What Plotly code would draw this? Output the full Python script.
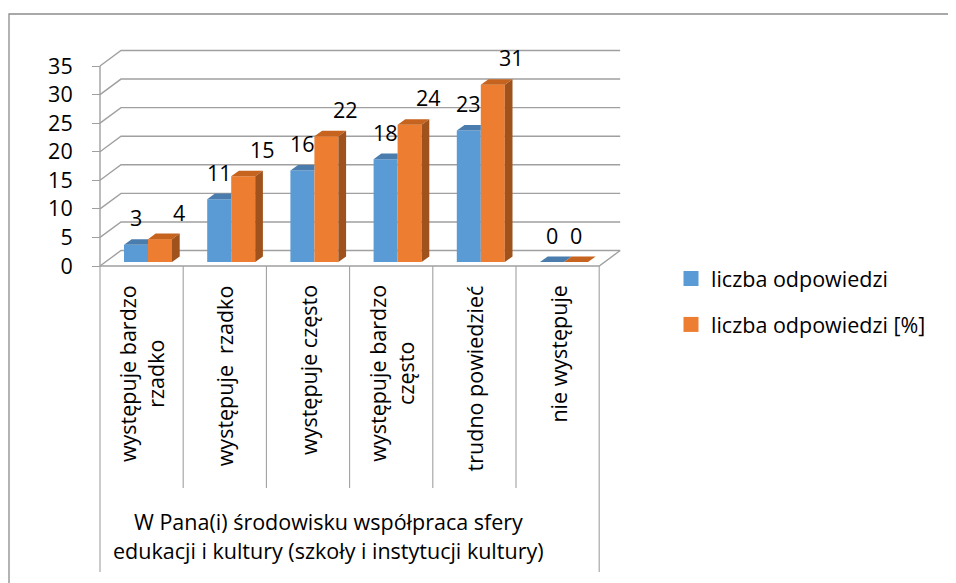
import plotly.graph_objects as go

# ---------------- data ----------------
categories = [
    "występuje bardzo<br>rzadko",
    "występuje\u00a0 rzadko",
    "występuje często",
    "występuje bardzo<br>często",
    "trudno powiedzieć",
    "nie występuje",
]
count_values = [3, 11, 16, 18, 23, 0]
percent_values = [4, 15, 22, 24, 31, 0]
series_names = ["liczba odpowiedzi", "liczba odpowiedzi [%]"]
y_ticks = [0, 5, 10, 15, 20, 25, 30, 35]
group_title_lines = [
    "W Pana(i) środowisku współpraca sfery",
    "edukacji i kultury (szkoły i instytucji kultury)",
]

# ---------------- style / geometry ----------------
W, H = 956, 583
PAGE = 8               # page body margin of the html page
FONT = "Open Sans"
FS = 21.5
BLUE, BLUE_TOP = "#5B9BD5", "#4A7DAE"
ORANGE, ORANGE_TOP, ORANGE_SIDE = "#ED7D31", "#C6631F", "#A0521C"
GRID = "#a0a0a0"

PX_X = 83.2            # pixels per category
PX_Y = 200.0 / 35.0    # pixels per value unit
X0_PX, Y0_PX = 100, 266  # screen pixel of the front-left-bottom corner
PL, PR, PT, PB = 60, 625, 40, 575   # plot area edges on screen
ML = PL - PAGE
MT = PT - PAGE
MR = W - (PR - PAGE)
MB = H - (PB - PAGE)

xmin = -0.5 - (X0_PX - PL) / PX_X
xmax = -0.5 + (PR - X0_PX) / PX_X
ymax = (Y0_PX - PT) / PX_Y
ymin = -(PB - Y0_PX) / PX_Y


def fx(px):
    return -0.5 + (px - X0_PX) / PX_X


def fy(py):
    return (Y0_PX - py) / PX_Y


def paper_x(px):
    return (px - PL) / (PR - PL)


def paper_y(py):
    return (PB - py) / (PB - PT)


WDX, WDY = 21 / PX_X, 15.5 / PX_Y      # wall depth
BAR_W = 24 / PX_X
BAR_OFF = 24 / PX_X                      # from category left edge
BASE = 4 / PX_Y
BDX, BDY = 7.7 / PX_X, 5.6 / PX_Y        # bar depth
n = len(categories)
x_last = n - 0.5

fig = go.Figure()

blue_x = [i - 0.5 + BAR_OFF + BAR_W / 2 for i in range(n)]
orange_x = [i - 0.5 + BAR_OFF + BAR_W * 1.5 for i in range(n)]

fig.add_trace(go.Bar(x=blue_x, y=count_values, base=BASE, width=BAR_W,
                     marker=dict(color=BLUE, line=dict(width=0)),
                     name=series_names[0], showlegend=False))
fig.add_trace(go.Bar(x=orange_x, y=percent_values, base=BASE, width=BAR_W,
                     marker=dict(color=ORANGE, line=dict(width=0)),
                     name=series_names[1], showlegend=False))

# legend entries
for name, col in zip(series_names, [BLUE, ORANGE]):
    fig.add_trace(go.Scatter(x=[None], y=[None], mode="markers", name=name,
                             legendgroup=name,
                             marker=dict(symbol="square", size=15, color=col,
                                         line=dict(width=0))))

shapes = []


def line_path(pts, color=GRID, width=1.4, layer="below", xref="x", yref="y"):
    d = "M " + " L ".join(f"{a},{b}" for a, b in pts)
    return dict(type="path", path=d, xref=xref, yref=yref, layer=layer,
                line=dict(color=color, width=width))


def poly(pts, color):
    d = "M " + " L ".join(f"{a},{b}" for a, b in pts) + " Z"
    return dict(type="path", path=d, xref="x", yref="y", layer="above",
                fillcolor=color, line=dict(width=0))


# back / side wall gridlines
for v in y_ticks:
    shapes.append(line_path([(-0.5, v), (-0.5 + WDX, v + WDY), (x_last + WDX, v + WDY)]))
# y axis line, floor front and right edge
shapes.append(line_path([(-0.5, 0), (-0.5, y_ticks[-1])]))
shapes.append(line_path([(-0.5, 0), (x_last, 0), (x_last + WDX, WDY)]))
# category separators
for k in range(n + 1):
    bottom = fy(572) if k in (0, n) else fy(488)
    shapes.append(line_path([(k - 0.5, 0), (k - 0.5, bottom)], width=1.1))

# 3D faces of bars
for i in range(n):
    bl = blue_x[i] - BAR_W / 2
    br = blue_x[i] + BAR_W / 2
    orr = orange_x[i] + BAR_W / 2
    tb = BASE + count_values[i]
    to = BASE + percent_values[i]
    if percent_values[i] > count_values[i]:
        shapes.append(poly([(bl, tb), (bl + BDX, tb + BDY), (br, tb + BDY), (br, tb)], BLUE_TOP))
    else:
        shapes.append(poly([(bl, tb), (bl + BDX, tb + BDY), (br + BDX, tb + BDY), (br, tb)], BLUE_TOP))
    shapes.append(poly([(br, to), (br + BDX, to + BDY), (orr + BDX, to + BDY), (orr, to)], ORANGE_TOP))
    if percent_values[i] > 0:
        shapes.append(poly([(orr, to), (orr + BDX, to + BDY), (orr + BDX, BASE + BDY), (orr, BASE)], ORANGE_SIDE))

# chart border (left and top)
shapes.append(line_path([(paper_x(9), paper_y(H + 20)), (paper_x(9), paper_y(14)),
                         (paper_x(W + 20), paper_y(14))], color="#8c8c8c", width=1.3,
                        xref="paper", yref="paper"))

annotations = []
# data labels
for i in range(n):
    annotations.append(dict(x=blue_x[i], y=BASE + count_values[i], text=str(count_values[i]),
                            showarrow=False, yshift=27, xanchor="center", yanchor="middle",
                            font=dict(family=FONT, size=FS, color="black")))
    annotations.append(dict(x=orange_x[i], y=BASE + percent_values[i], text=str(percent_values[i]),
                            showarrow=False, yshift=27,
                            xshift=19 if percent_values[i] > 0 else 0,
                            xanchor="center", yanchor="middle",
                            font=dict(family=FONT, size=FS, color="black")))
# category labels
for k, lab in enumerate(categories):
    annotations.append(dict(x=k, y=fy(283), text=lab, textangle=-90, showarrow=False,
                            xanchor="center", yanchor="top", align="center",
                            font=dict(family=FONT, size=FS, color="black")))
# group title
for j, line in enumerate(group_title_lines):
    annotations.append(dict(x=fx(328), y=fy(521 + 29 * j), text=line, showarrow=False,
                            xanchor="center", yanchor="middle",
                            font=dict(family=FONT, size=FS, color="black")))

fig.update_layout(
    width=W, height=H,
    margin=dict(l=ML, r=MR, t=MT, b=MB, pad=0),
    paper_bgcolor="white", plot_bgcolor="white",
    barmode="overlay",
    font=dict(family=FONT, size=FS, color="black"),
    xaxis=dict(range=[xmin, xmax], visible=False, fixedrange=True),
    yaxis=dict(range=[ymin, ymax], tickvals=y_ticks, ticktext=[str(v) for v in y_ticks],
               showgrid=False, zeroline=False, showline=False,
               anchor="free", position=paper_x(X0_PX),
               ticks="outside", ticklen=8, tickcolor=GRID, tickwidth=1.4,
               ticklabelstandoff=15,
               tickfont=dict(family=FONT, size=FS, color="black")),
    showlegend=True,
    legend=dict(x=paper_x(671), y=paper_y(258), xanchor="left", yanchor="top",
                font=dict(family=FONT, size=FS, color="black"),
                tracegroupgap=15, bgcolor="rgba(0,0,0,0)"),
    shapes=shapes,
    annotations=annotations,
)

fig.write_html("out.html")
